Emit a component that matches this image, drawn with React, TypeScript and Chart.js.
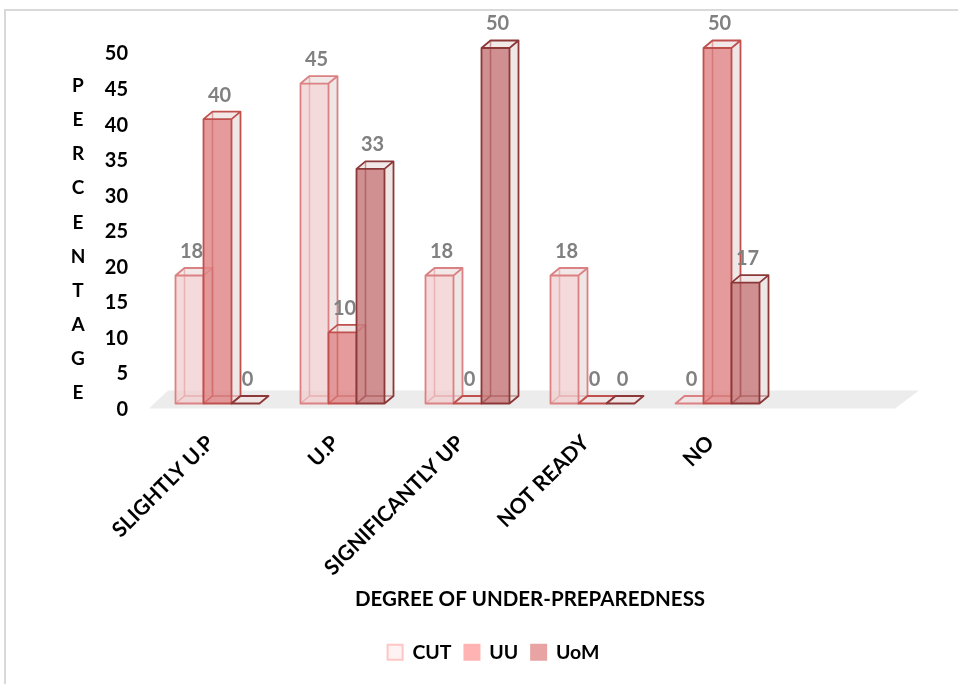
import React, { useEffect, useRef } from 'react';
import { Chart, registerables } from 'chart.js';

Chart.register(...registerables);

// ---- data ----
const categories = ['SLIGHTLY U.P', 'U.P', 'SIGNIFICANTLY UP', 'NOT READY', 'NO', ''];
const seriesNames = ['CUT', 'UU', 'UoM'];
const cutValues = [18, 45, 18, 18, 0, null];
const uuValues = [40, 10, 0, 0, 50, null];
const uomValues = [0, 33, 50, 0, 17, null];
const yTitleLetters = ['P', 'E', 'R', 'C', 'E', 'N', 'T', 'A', 'G', 'E'];
const xTitle = 'DEGREE OF UNDER-PREPAREDNESS';

// ---- styles ----
const FONT = 'Lato, "Open Sans", sans-serif';
const barFront = ['rgba(242, 205, 207, 0.75)', 'rgba(224, 138, 139, 0.85)', 'rgba(201, 128, 129, 0.88)'];
const barEdge = ['#dc8183', '#c0504d', '#8c3838'];
const barEdgeHidden = ['rgba(220,129,131,0.45)', 'rgba(192,80,77,0.45)', 'rgba(140,56,56,0.45)'];
const sideFill = 'rgba(236, 226, 226, 0.85)';
const topFill = 'rgba(240, 228, 228, 0.85)';
const legendFill = ['#fff2f2', '#ffb3b3', '#e8a3a3'];
const legendStroke = ['#ffc6c6', '#ffb3b3', '#e8a3a3'];
const DX = 9;
const DY = -7.5;

const bars3d = {
  id: 'bars3d',
  beforeDraw(chart: any) {
    const ctx = chart.ctx;
    ctx.save();
    ctx.fillStyle = '#ffffff';
    ctx.fillRect(0, 0, chart.width, chart.height);
    ctx.strokeStyle = '#d9d9d9';
    ctx.lineWidth = 2;
    ctx.beginPath();
    ctx.moveTo(5, chart.height + 5);
    ctx.lineTo(5, 10);
    ctx.lineTo(chart.width + 5, 10);
    ctx.stroke();
    // stacked y title letters
    ctx.fillStyle = '#000';
    ctx.font = 'bold 19px ' + FONT;
    ctx.textAlign = 'center';
    ctx.textBaseline = 'middle';
    yTitleLetters.forEach((ch, i) => {
      ctx.fillText(ch, 78, 86 + i * 34.1);
    });
    ctx.restore();
  },
  beforeDatasetsDraw(chart: any) {
    const ctx = chart.ctx;
    const area = chart.chartArea;
    const base = chart.scales.y.getPixelForValue(0);
    ctx.save();
    // floor
    ctx.fillStyle = '#ececec';
    ctx.beginPath();
    ctx.moveTo(area.left - 6, base + 5);
    ctx.lineTo(area.right - 10, base + 5);
    ctx.lineTo(area.right + 14, base - 13);
    ctx.lineTo(area.left + 13, base - 13);
    ctx.closePath();
    ctx.fill();

    const n = chart.data.labels.length;
    const labels: any[] = [];
    for (let i = 0; i < n; i++) {
      chart.data.datasets.forEach((ds: any, di: number) => {
        const v = ds.data[i];
        const meta = chart.getDatasetMeta(di);
        const el = meta.data[i];
        if (v == null || !el) return;
        const p = el.getProps(['x', 'y', 'width', 'base'], true);
        const x0 = p.x - p.width / 2;
        const x1 = p.x + p.width / 2;
        const y = p.y;
        const b = base;
        ctx.lineJoin = 'round';
        // side face
        ctx.fillStyle = sideFill;
        ctx.beginPath();
        ctx.moveTo(x1, y);
        ctx.lineTo(x1 + DX, y + DY);
        ctx.lineTo(x1 + DX, b + DY);
        ctx.lineTo(x1, b);
        ctx.closePath();
        ctx.fill();
        // top face
        ctx.fillStyle = topFill;
        ctx.beginPath();
        ctx.moveTo(x0, y);
        ctx.lineTo(x1, y);
        ctx.lineTo(x1 + DX, y + DY);
        ctx.lineTo(x0 + DX, y + DY);
        ctx.closePath();
        ctx.fill();
        // front face
        ctx.fillStyle = barFront[di];
        ctx.fillRect(x0, y, x1 - x0, b - y);
        // hidden edges
        ctx.strokeStyle = barEdgeHidden[di];
        ctx.lineWidth = 1.5;
        ctx.beginPath();
        ctx.moveTo(x0 + DX, y + DY);
        ctx.lineTo(x0 + DX, b + DY);
        ctx.lineTo(x1 + DX, b + DY);
        ctx.moveTo(x0, b);
        ctx.lineTo(x0 + DX, b + DY);
        ctx.stroke();
        // visible edges
        ctx.strokeStyle = barEdge[di];
        ctx.lineWidth = 1.8;
        ctx.beginPath();
        ctx.rect(x0, y, x1 - x0, b - y);
        ctx.moveTo(x0, y);
        ctx.lineTo(x0 + DX, y + DY);
        ctx.lineTo(x1 + DX, y + DY);
        ctx.lineTo(x1, y);
        ctx.moveTo(x1 + DX, y + DY);
        ctx.lineTo(x1 + DX, b + DY);
        ctx.lineTo(x1, b);
        ctx.stroke();
        labels.push({ text: String(v), x: p.x + 2, y: y - 24 });
      });
    }
    ctx.fillStyle = '#808080';
    ctx.font = 'bold 20px ' + FONT;
    ctx.textAlign = 'center';
    ctx.textBaseline = 'middle';
    labels.forEach((l) => ctx.fillText(l.text, l.x, l.y));
    ctx.restore();
    return false;
  },
};

export default function App() {
  const ref = useRef<HTMLCanvasElement | null>(null);
  useEffect(() => {
    if (!ref.current) return;
    const chart = new Chart(ref.current, {
      type: 'bar',
      data: {
        labels: categories,
        datasets: [
          { label: seriesNames[0], data: cutValues, backgroundColor: legendFill[0], borderColor: legendStroke[0] },
          { label: seriesNames[1], data: uuValues, backgroundColor: legendFill[1], borderColor: legendStroke[1] },
          { label: seriesNames[2], data: uomValues, backgroundColor: legendFill[2], borderColor: legendStroke[2] },
        ] as any,
      },
      options: {
        animation: false,
        responsive: true,
        maintainAspectRatio: false,
        datasets: { bar: { categoryPercentage: 0.672, barPercentage: 1 } } as any,
        layout: { padding: { left: 82, right: 53, top: 48, bottom: 12 } },
        plugins: {
          tooltip: { enabled: false },
          legend: {
            position: 'bottom',
            labels: {
              font: { family: FONT, size: 19.5, weight: 'bold' },
              color: '#000',
              boxWidth: 15,
              boxHeight: 15,
              padding: 13,
              generateLabels: () =>
                seriesNames.map((name, i) => ({
                  text: name,
                  fillStyle: legendFill[i],
                  strokeStyle: legendStroke[i],
                  lineWidth: 2,
                  datasetIndex: i,
                  fontColor: '#000',
                })),
            },
          },
        },
        scales: {
          x: {
            grid: { display: false, drawTicks: false },
            border: { display: false },
            ticks: {
              font: { family: FONT, size: 21, weight: 'bold' },
              color: '#000',
              maxRotation: 45,
              minRotation: 45,
              autoSkip: false,
              padding: 27,
              labelOffset: -7,
            },
            title: {
              display: true,
              text: xTitle,
              font: { family: FONT, size: 20.5, weight: 'bold' },
              color: '#000',
              padding: { top: 0, bottom: 18 },
            },
            afterFit: (scale: any) => {
              scale.height = 226;
            },
          },
          y: {
            min: 0,
            max: 50,
            grid: { display: false, drawTicks: false },
            border: { display: false },
            ticks: {
              stepSize: 5,
              font: { family: FONT, size: 20, weight: 'bold' },
              color: '#000',
              padding: 27,
              labelOffset: 6,
            },
            afterFit: (scale: any) => {
              scale.width = 73;
            },
          },
        },
      },
      plugins: [bars3d],
    });
    return () => chart.destroy();
  }, []);
  return (
    <div style={{ position: 'fixed', left: 0, top: 0, width: 958, height: 684, background: '#fff' }}>
      <canvas ref={ref} />
    </div>
  );
}
